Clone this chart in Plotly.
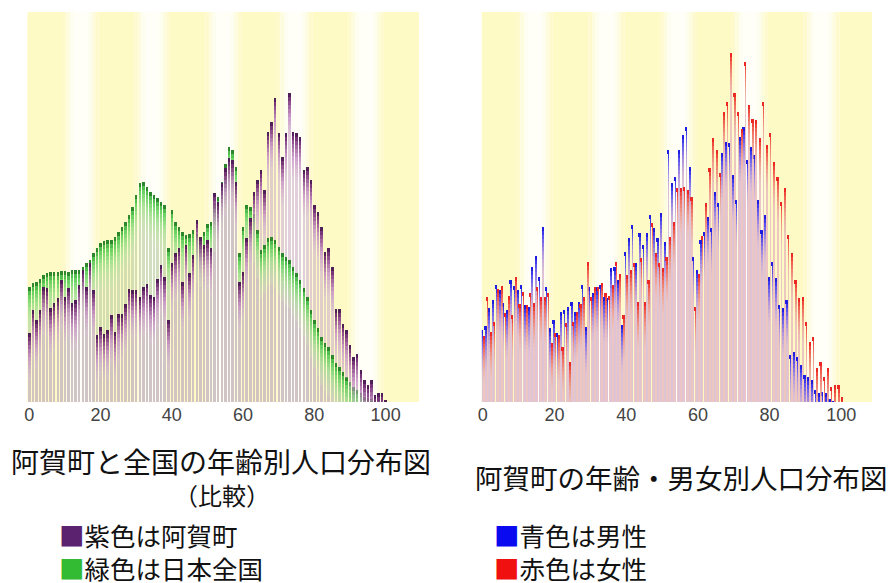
import numpy as np
import plotly.graph_objects as go

# ---------------- data ----------------
ages = list(range(0, 101))

agamachi = [69, 92, 82, 92, 115, 114, 94, 99, 104, 122,
            105, 114, 99, 102, 117, 132, 115, 139, 112, 67,
            75, 68, 72, 87, 70, 88, 88, 98, 113, 112,
            112, 105, 115, 118, 107, 105, 123, 137, 125, 82,
            139, 149, 154, 120, 157, 129, 147, 182, 165, 157,
            162, 154, 209, 200, 219, 234, 244, 242, 220, 120,
            130, 164, 184, 210, 222, 232, 212, 270, 280, 304,
            269, 245, 269, 309, 270, 269, 265, 232, 235, 222,
            197, 190, 175, 150, 154, 135, 93, 93, 78, 72,
            57, 45, 48, 32, 22, 17, 22, 7, 9, 9, 2]

japan = [115, 119, 120, 123, 127, 129, 130, 130, 130, 131,
         131, 130, 132, 132, 132, 135, 139, 142, 149, 154,
         159, 161, 162, 162, 165, 170, 175, 180, 187, 195,
         207, 219, 220, 215, 210, 207, 204, 200, 197, 154,
         192, 180, 175, 170, 167, 168, 172, 168, 163, 170,
         178, 180, 198, 205, 220, 238, 255, 252, 235, 149,
         175, 197, 195, 188, 172, 152, 157, 164, 165, 162,
         155, 149, 145, 142, 135, 129, 122, 114, 105, 92,
         82, 74, 65, 59, 55, 47, 39, 35, 30, 25,
         20, 15, 12, 9, 5, 4, 3, 2, 1, 1, 0.5]

male = [72, 76, 94, 102, 117, 112, 99, 92, 122, 116,
        112, 117, 97, 95, 135, 146, 125, 175, 115, 74,
        82, 69, 90, 92, 95, 100, 90, 100, 117, 75,
        115, 109, 115, 117, 105, 104, 134, 135, 122, 77,
        150, 164, 177, 139, 169, 157, 169, 187, 174, 164,
        189, 160, 252, 219, 225, 252, 267, 275, 235, 145,
        132, 162, 170, 185, 174, 210, 199, 249, 260, 259,
        227, 202, 265, 275, 242, 255, 247, 202, 172, 187,
        125, 140, 124, 97, 94, 102, 47, 50, 45, 37,
        27, 25, 22, 12, 9, 10, 9, 3, 1, 0, 0]

female = [66, 105, 70, 80, 113, 116, 89, 106, 87, 125,
          98, 110, 97, 109, 99, 115, 105, 105, 109, 59,
          69, 67, 55, 79, 40, 80, 90, 98, 105, 140,
          105, 115, 115, 119, 109, 106, 117, 140, 128, 87,
          127, 132, 139, 100, 144, 100, 122, 179, 149, 139,
          134, 145, 165, 180, 214, 214, 215, 212, 205, 95,
          128, 166, 199, 234, 264, 252, 229, 290, 300, 349,
          309, 290, 273, 340, 297, 283, 282, 264, 300, 257,
          269, 240, 225, 200, 214, 167, 149, 122, 104, 105,
          80, 60, 65, 34, 40, 25, 34, 15, 17, 17, 5]

tick_vals = [0, 20, 40, 60, 80, 100]
tick_text = ["0", "20", "40", "60", "80", "100"]

left_title = "阿賀町と全国の年齢別人口分布図"
left_sub = "（比較）"
right_title = "阿賀町の年齢・男女別人口分布図"
legend_left = [("紫色は阿賀町", "#5b2270"), ("緑色は日本全国", "#33bb33")]
legend_right = [("青色は男性", "#0a0af0"), ("赤色は女性", "#f01010")]

# ---------------- styling helpers ----------------
W, H = 892, 583
def px_x(p):
    return p / W
def px_y(p):
    return 1 - p / H

def interp(stops, t):
    for i in range(len(stops) - 1):
        t0, c0 = stops[i]
        t1, c1 = stops[i + 1]
        if t <= t1:
            f = (t - t0) / (t1 - t0) if t1 > t0 else 0
            c = [c0[j] + (c1[j] - c0[j]) * f for j in range(4)]
            return "rgba(%d,%d,%d,%.3f)" % (c[0], c[1], c[2], c[3])
    c = stops[-1][1]
    return "rgba(%d,%d,%d,%.3f)" % tuple(c)

N_SEG = 12
SEG = 4.0

def series_traces(values, body, stops, width, offset, xa, ya):
    v = np.asarray(values, dtype=float)
    x = np.asarray(ages)
    out = [go.Bar(x=x, y=v, base=np.zeros_like(v), width=width, offset=offset,
                  marker=dict(color=body, line=dict(width=0)),
                  xaxis=xa, yaxis=ya, hoverinfo="skip", showlegend=False)]
    caps = []
    for k in range(N_SEG):
        top = v - k * SEG
        base = np.maximum(top - SEG, 0)
        h = np.maximum(top - base, 0)
        col = interp(stops, k / (N_SEG - 1))
        caps.append(go.Bar(x=x, y=h, base=base, width=width, offset=offset,
                           marker=dict(color=col, line=dict(width=0)),
                           xaxis=xa, yaxis=ya, hoverinfo="skip", showlegend=False))
    return out, caps

purple_stops = [(0, (80, 30, 88, 1.0)), (0.12, (125, 55, 125, 0.95)),
                (0.5, (195, 135, 195, 0.72)), (1, (220, 192, 215, 0.3))]
green_stops = [(0, (45, 135, 45, 1.0)), (0.12, (85, 205, 85, 0.95)),
               (0.5, (160, 230, 140, 0.72)), (1, (205, 232, 180, 0.3))]
blue_stops = [(0, (30, 30, 225, 1.0)), (0.15, (75, 70, 240, 0.95)),
              (0.55, (160, 135, 225, 0.75)), (1, (222, 190, 212, 0.35))]
red_stops = [(0, (235, 40, 35, 1.0)), (0.15, (242, 85, 70, 0.95)),
             (0.55, (240, 150, 130, 0.75)), (1, (235, 195, 190, 0.35))]

g_body, g_caps = series_traces(japan, "rgba(188,206,165,0.68)", green_stops, 0.7, -0.35, "x", "y")
p_body, p_caps = series_traces(agamachi, "rgba(208,182,203,0.64)", purple_stops, 0.7, -0.35, "x", "y")
m_body, m_caps = series_traces(male, "rgba(220,190,212,0.9)", blue_stops, 0.46, -0.48, "x2", "y2")
f_body, f_caps = series_traces(female, "rgba(234,192,190,0.9)", red_stops, 0.46, 0.02, "x2", "y2")

fig = go.Figure(g_body + p_body + g_caps + p_caps + m_body + f_body + m_caps + f_caps)

# ---------------- background bands ----------------
YEL = (254, 250, 198)
WHT = (255, 255, 248)
shapes = []
def add_bands(xref, xmax):
    for k in range(11):
        x0 = -0.5 + 10 * k
        x1 = min(x0 + 10, xmax)
        if k % 2 == 0:
            shapes.append(dict(type="rect", xref=xref, yref=xref.replace("x", "y") + " domain",
                               x0=x0, x1=x1, y0=0, y1=1, layer="below",
                               fillcolor="rgb(%d,%d,%d)" % YEL, line=dict(width=0)))
        else:
            n = 10
            for j in range(n):
                t = 1 - abs((j + 0.5) / n * 2 - 1)
                t = min(1.0, t * 1.7)
                c = [YEL[i] + (WHT[i] - YEL[i]) * t for i in range(3)]
                shapes.append(dict(type="rect", xref=xref, yref=xref.replace("x", "y") + " domain",
                                   x0=x0 + j, x1=min(x0 + j + 1, xmax), y0=0, y1=1, layer="below",
                                   fillcolor="rgb(%d,%d,%d)" % tuple(c), line=dict(width=0)))
add_bands("x", 109.4)
add_bands("x2", 108.6)

# ---------------- annotations ----------------
TF = "Noto Sans CJK JP"
ann = [
    dict(text=left_title, x=px_x(218), y=px_y(461), font=dict(size=28, family=TF, color="#111")),
    dict(text=left_sub, x=px_x(219), y=px_y(494), font=dict(size=24, family=TF, color="#111")),
    dict(text=right_title, x=px_x(681), y=px_y(477), font=dict(size=27.5, family=TF, color="#111")),
]
ann.append(dict(text="<br>".join("<span style='color:%s'>■</span>%s" % (c, t) for t, c in legend_left),
                x=px_x(53), y=px_y(551), xanchor="left", align="left",
                font=dict(size=25.5, family=TF, color="#111")))
ann.append(dict(text="<br>".join("<span style='color:%s'>■</span>%s" % (c, t) for t, c in legend_right),
                x=px_x(490), y=px_y(551), xanchor="left", align="left",
                font=dict(size=25.5, family=TF, color="#111")))
for a in ann:
    a.update(xref="paper", yref="paper", showarrow=False, yanchor="middle")
    a.setdefault("xanchor", "center")

tickfont = dict(size=18, family="Liberation Sans Narrow, Liberation Sans, Arial", color="#444")
xcommon = dict(tickmode="array", tickvals=tick_vals, ticktext=tick_text, showgrid=False,
               zeroline=False, showline=False, ticks="", tickfont=tickfont, fixedrange=True)
ycommon = dict(range=[0, 390], showgrid=False, zeroline=False, showline=False,
               showticklabels=False, ticks="", domain=[px_y(402), px_y(12)], fixedrange=True)

fig.update_layout(
    width=W, height=H, margin=dict(l=0, r=0, t=0, b=0),
    paper_bgcolor="white", plot_bgcolor="white", barmode="overlay", bargap=0,
    showlegend=False, shapes=shapes, annotations=ann,
    xaxis=dict(domain=[px_x(23), px_x(417)], range=[-0.64, 109.4], anchor="y", **xcommon),
    yaxis=dict(anchor="x", **ycommon),
    xaxis2=dict(domain=[px_x(480), px_x(872)], range=[-0.28, 108.6], anchor="y2", **xcommon),
    yaxis2=dict(anchor="x2", **ycommon),
)

fig.write_html("out.html", config={"displayModeBar": False},
               post_script="document.body.style.margin='0px';document.body.style.overflow='hidden';")
